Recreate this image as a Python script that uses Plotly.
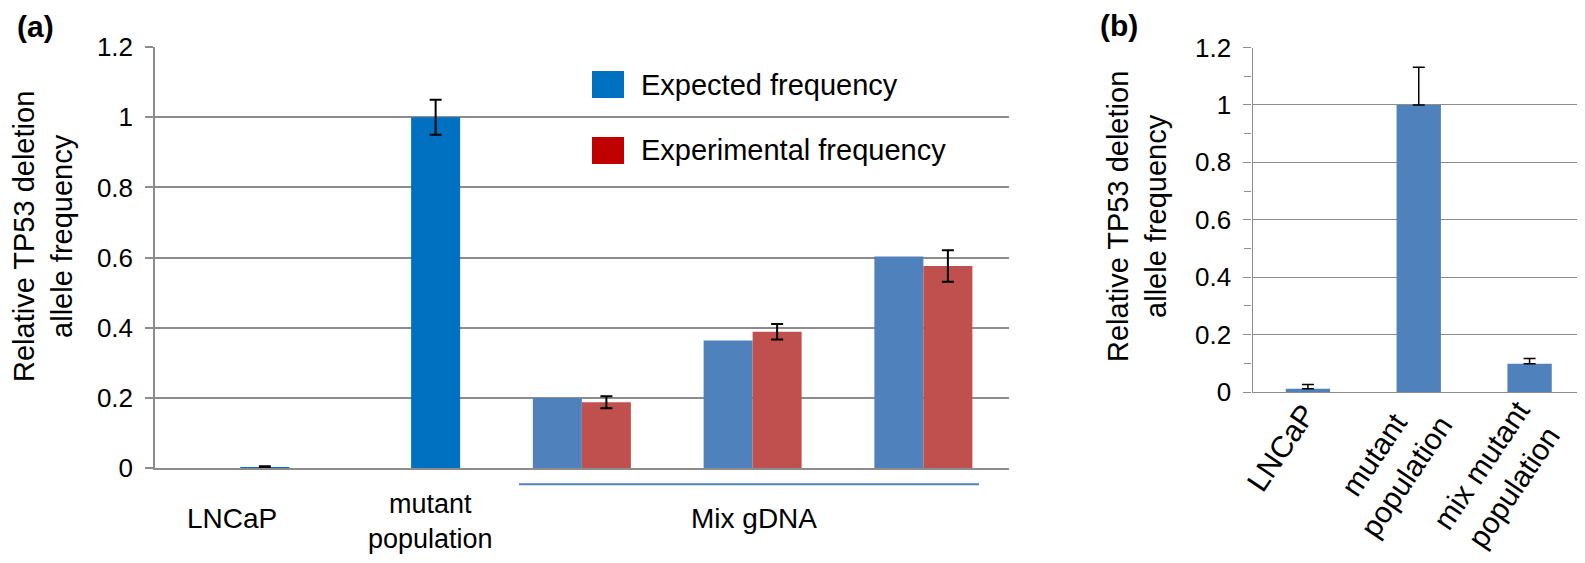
import plotly.graph_objects as go

# page body has an 8px margin, so the figure sits at (8, 8) in the window
OFF = 8
W, H = 1585 - OFF, 563 - OFF

# ---------------- data (panel a) ----------------
a_positions = [0, 1, 2, 3, 4]
a_labels = ["LNCaP", "mutant<br>population", "Mix gDNA"]
expected = [None, None, 0.200, 0.364, 0.603]
experimental = [0.004, 1.000, 0.188, 0.389, 0.576]
experimental_err = [0.002, 0.050, 0.017, 0.022, 0.045]
exp_colors = ["#0070C0", "#0070C0", "#C0504D", "#C0504D", "#C0504D"]
legend_names = ["Expected frequency", "Experimental frequency"]
legend_colors = ["#0070C0", "#C00000"]

# ---------------- data (panel b) ----------------
b_positions = [0, 1, 2]
b_labels = ["LNCaP", "mutant<br>population", "mix mutant<br>population"]
b_values = [0.011, 1.000, 0.098]
b_err = [0.015, 0.131, 0.019]

y_ticks = [0, 0.2, 0.4, 0.6, 0.8, 1.0, 1.2]
y_title = "Relative TP53 deletion<br>allele frequency"

FONT = "Arial, 'Liberation Sans', sans-serif"
GRID = "#8C8C8C"


def px(x):
    return (x - OFF) / W


def py(y):
    return 1 - (y - OFF) / H


fig = go.Figure()

bw = 0.287
fig.add_trace(go.Bar(x=a_positions, y=expected, width=bw, offset=-bw,
                     marker=dict(color="#4F81BD", line=dict(width=0)),
                     xaxis="x", yaxis="y", showlegend=False))
fig.add_trace(go.Bar(x=a_positions, y=experimental, width=bw, offset=0,
                     marker=dict(color=exp_colors, line=dict(width=0)),
                     error_y=dict(type="data", array=experimental_err, visible=True,
                                  color="black", thickness=2, width=6),
                     xaxis="x", yaxis="y", showlegend=False))

fig.add_trace(go.Bar(x=b_positions, y=b_values, width=0.4, offset=-0.2,
                     marker=dict(color="#4F81BD", line=dict(width=0)),
                     error_y=dict(type="data", symmetric=False, array=b_err,
                                  arrayminus=[0, 0, 0], visible=True,
                                  color="black", thickness=1.5, width=6),
                     xaxis="x2", yaxis="y2", showlegend=False))

axis_common = dict(showgrid=False, zeroline=False, automargin=False)

fig.update_layout(
    width=W, height=H,
    margin=dict(l=0, r=0, t=0, b=0),
    paper_bgcolor="white", plot_bgcolor="white",
    barmode="overlay",
    showlegend=False,
    font=dict(family=FONT, color="black"),
    xaxis=dict(domain=[px(155), px(1008.75)], range=[-0.5, 4.5],
               showticklabels=False, ticks="", showline=True,
               linecolor=GRID, linewidth=1.5, anchor="y", **axis_common),
    yaxis=dict(domain=[py(468.3), py(47)], range=[0, 1.2],
               tickvals=y_ticks, ticks="outside", ticklen=8, tickcolor=GRID,
               tickwidth=1.5, showline=True, linecolor=GRID, linewidth=1.5,
               showgrid=True, gridcolor=GRID, gridwidth=1.5, zeroline=False,
               tickfont=dict(size=26, family=FONT, color="black"),
               ticklabelstandoff=7, automargin=False, anchor="x"),
    xaxis2=dict(domain=[px(1252.5), 1.0], range=[-0.5, 2.5],
                showticklabels=False, ticks="", showline=True,
                linecolor=GRID, linewidth=1.2, anchor="y2", **axis_common),
    yaxis2=dict(domain=[py(392), py(47.5)], range=[0, 1.2],
                tickvals=y_ticks, ticks="outside", ticklen=8, tickcolor=GRID,
                tickwidth=1.2, showline=True, linecolor=GRID, linewidth=1.2,
                showgrid=True, gridcolor=GRID, gridwidth=1.2, zeroline=False,
                minor=dict(dtick=0.1, tick0=0, ticks="outside", ticklen=7,
                           tickcolor=GRID, tickwidth=1.2, showgrid=False),
                tickfont=dict(size=26, family=FONT, color="black"),
                ticklabelstandoff=7, automargin=False, anchor="x2"),
)

ann = []
# panel labels
ann.append(dict(text="<b>(a)</b>", x=px(35.5), y=py(26.5), xref="paper", yref="paper",
                xanchor="center", yanchor="middle", showarrow=False,
                font=dict(size=30, family=FONT, color="black")))
ann.append(dict(text="<b>(b)</b>", x=px(1119), y=py(25), xref="paper", yref="paper",
                xanchor="center", yanchor="middle", showarrow=False,
                font=dict(size=30, family=FONT, color="black")))
# y titles
ann.append(dict(text=y_title, x=px(43), y=py(237), xref="paper", yref="paper",
                xanchor="center", yanchor="middle", textangle=-90, showarrow=False,
                font=dict(size=29, family=FONT, color="black")))
ann.append(dict(text=y_title, x=px(1137), y=py(217), xref="paper", yref="paper",
                xanchor="center", yanchor="middle", textangle=-90, showarrow=False,
                font=dict(size=29, family=FONT, color="black")))
# panel a category labels
a_label_pos = [(0, -8, 518, 28), (1, 19, 521, 27), (3, 1, 518, 28)]
for lab, (xc, xs, yc, fs) in zip(a_labels, a_label_pos):
    ann.append(dict(text=lab, x=xc, xshift=xs, y=py(yc), xref="x", yref="paper",
                    xanchor="center", yanchor="middle", showarrow=False, align="center",
                    font=dict(size=fs, family=FONT, color="black")))
# panel b rotated labels
b_label_pos = [(-27, 447), (-29, 466), (-32, 476)]
for xc, lab, (xs, yc) in zip(b_positions, b_labels, b_label_pos):
    ann.append(dict(text=lab, x=xc, xshift=xs, y=py(yc), xref="x2", yref="paper",
                    xanchor="center", yanchor="middle", textangle=-56, showarrow=False,
                    align="center", font=dict(size=30, family=FONT, color="black")))
# legend texts
for name, yc in zip(legend_names, [85, 150]):
    ann.append(dict(text=name, x=px(639), y=py(yc), xref="paper", yref="paper",
                    xanchor="left", yanchor="middle", showarrow=False,
                    font=dict(size=29, family=FONT, color="black")))
fig.update_layout(annotations=ann)

shapes = []
for col, (y0, y1) in zip(legend_colors, [(71, 98), (137, 164)]):
    shapes.append(dict(type="rect", xref="paper", yref="paper",
                       x0=px(592), x1=px(624), y0=py(y1), y1=py(y0),
                       fillcolor=col, line=dict(width=0)))
# bracket line under the Mix gDNA group
shapes.append(dict(type="line", xref="paper", yref="paper",
                   x0=px(519), x1=px(979), y0=py(484.3), y1=py(484.3),
                   line=dict(color="#4F81BD", width=2)))
fig.update_layout(shapes=shapes)

fig.write_html("out.html")
